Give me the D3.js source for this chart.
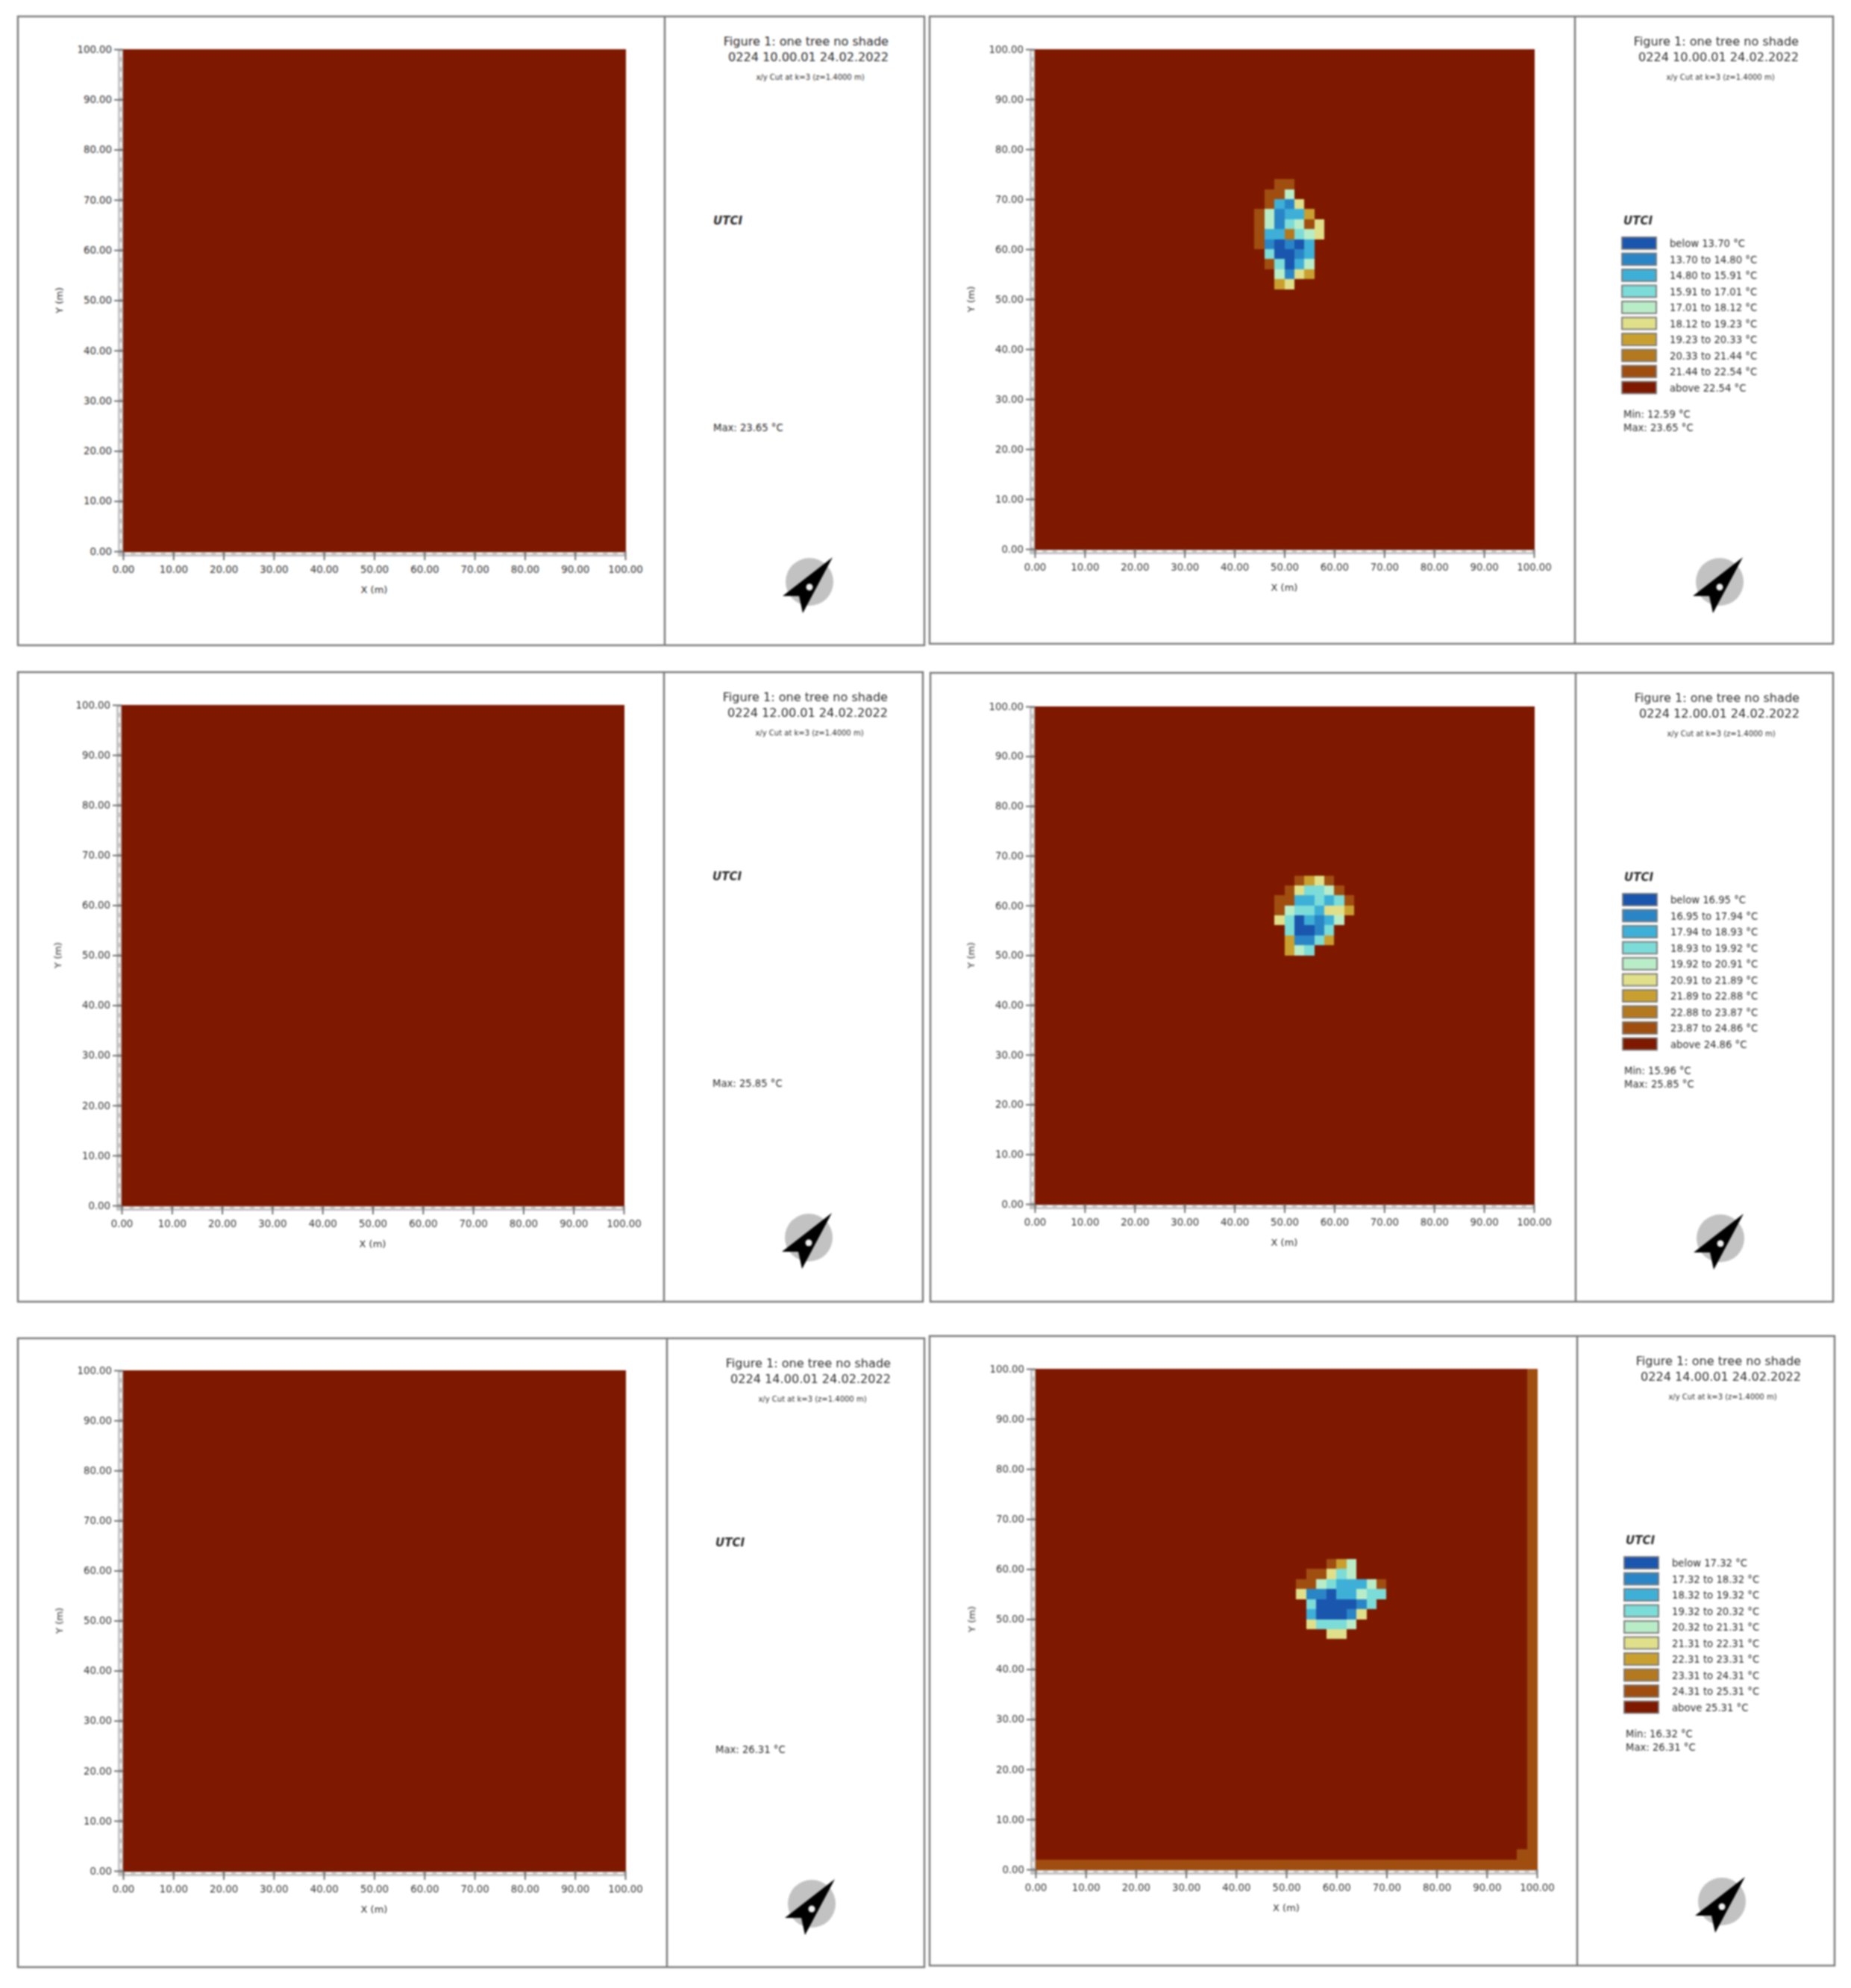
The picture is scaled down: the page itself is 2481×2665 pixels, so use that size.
<!DOCTYPE html>
<html>
<head>
<meta charset="utf-8">
<script src="https://cdnjs.cloudflare.com/ajax/libs/d3/7.8.5/d3.min.js"></script>
<style>
html,body{margin:0;padding:0;background:#fff;}
svg{display:block;filter:blur(1px);}
text{font-family:"DejaVu Sans",sans-serif;fill:#2a2a2a;}
</style>
</head>
<body>
<svg id="chart" width="2481" height="2665"></svg>
<script>
// ---- data ----
const titleText = "Figure 1: one tree no shade";
const cutText = "x/y Cut at k=3 (z=1.4000 m)";
const variableName = "UTCI";
const timeLabels = ["0224 10.00.01 24.02.2022", "0224 12.00.01 24.02.2022", "0224 14.00.01 24.02.2022"];
const axisTicks = [0, 10, 20, 30, 40, 50, 60, 70, 80, 90, 100];
const classColors = ["#1a55ae", "#2a85c6", "#3eb0d8", "#7cdcd8", "#b9edc8", "#e0e08a", "#c9a030", "#b4781f", "#a04d10", "#7e1900"];
const maxValues = [23.65, 25.85, 26.31];
const minValues = [12.59, 15.96, 16.32];
const breaks10 = [13.70, 14.80, 15.91, 17.01, 18.12, 19.23, 20.33, 21.44, 22.54];
const breaks12 = [16.95, 17.94, 18.93, 19.92, 20.91, 21.89, 22.88, 23.87, 24.86];
const breaks14 = [17.32, 18.32, 19.32, 20.32, 21.31, 22.31, 23.31, 24.31, 25.31];
// rows of classes: [row from top, first column, classes]
const cells10 = [
  [13,24,"88"],[14,23,"884"],[15,23,"8215"],[16,22,"841226"],[17,22,"8413485"],[18,22,"8227345"],
  [19,22,"810102"],[20,23,"30012"],[21,23,"83024"],[22,24,"4156"],[23,24,"65"]];
const cells12 = [
  [17,26,"8658"],[18,25,"853348"],[19,24,"88223238"],[20,24,"84332556"],[21,24,"5302124"],
  [22,25,"30013"],[23,25,"61136"],[24,25,"643"]];
const cells14 = [
  [19,29,"864"],[20,27,"88534"],[21,26,"884322248"],[22,26,"511022433"],[23,27,"3000013"],
  [24,27,"200015"],[25,27,"53334"],[26,29,"55"]];
const edge14Class = 8;   // the brown right column and bottom row of the 14:00 grid

// ---- layout ----
const panels = [
  {f:[24,22,1239,865],  d:891,  p:[165,66,838,739],   t:0},
  {f:[1246,22,2457,863],d:2111, p:[1387,66,2056,736], t:0, cells:cells10, breaks:breaks10},
  {f:[24,901,1237,1745],d:890,  p:[163,945,836,1616], t:1},
  {f:[1247,902,2457,1745],d:2112,p:[1387,947,2056,1614],t:1, cells:cells12, breaks:breaks12},
  {f:[24,1794,1239,2637],d:894, p:[165,1837,838,2508],t:2},
  {f:[1246,1791,2459,2635],d:2114,p:[1388,1835,2060,2506],t:2, cells:cells14, breaks:breaks14, edge:edge14Class}
];
const N = 50;
const svg = d3.select("#chart");
const fmt = d3.format(".2f");

function buildGrid(pn){
  const g = d3.range(N).map(() => d3.range(N).map(() => 9));
  (pn.cells||[]).forEach(([r,c,s]) => { [...s].forEach((ch,k) => { g[r][c+k] = +ch; }); });
  if(pn.edge !== undefined){
    for(let i=0;i<N;i++){ g[N-1][i]=pn.edge; g[i][N-1]=pn.edge; }
    g[N-2][N-2]=pn.edge;
  }
  const out=[];
  g.forEach((row,r)=>row.forEach((v,c)=>out.push({r,c,v})));
  return out;
}

panels.forEach(pn => {
  const g = svg.append("g");
  const [fx0,fy0,fx1,fy1] = pn.f;
  const [px0,py0,px1,py1] = pn.p;
  g.append("rect").attr("x",fx0).attr("y",fy0).attr("width",fx1-fx0).attr("height",fy1-fy0)
    .attr("fill","#fff").attr("stroke","#7c7c7c").attr("stroke-width",2.5);
  g.append("line").attr("x1",pn.d).attr("x2",pn.d).attr("y1",fy0).attr("y2",fy1)
    .attr("stroke","#7c7c7c").attr("stroke-width",2.5);

  const x = d3.scaleLinear().domain([0,100]).range([px0,px1]);
  const y = d3.scaleLinear().domain([0,100]).range([py1,py0]);
  const color = d3.scaleOrdinal().domain(d3.range(10)).range(classColors);
  const dm = 100/N;

  // scale strips
  g.append("rect").attr("x",px0-7).attr("y",py0).attr("width",7).attr("height",py1-py0+7).attr("fill","#c4c4c4");
  g.append("rect").attr("x",px0-7).attr("y",py1).attr("width",px1-px0+7).attr("height",7).attr("fill","#c4c4c4");
  const minor = d3.range(0,100,dm);
  g.append("g").selectAll("line").data(minor).join("line")
    .attr("x1",d=>x(d)+3).attr("x2",d=>x(d+dm)-3).attr("y1",py1+3).attr("y2",py1+3)
    .attr("stroke","#fff").attr("stroke-width",2);
  g.append("g").selectAll("line").data(minor).join("line")
    .attr("y1",d=>y(d)-3).attr("y2",d=>y(d+dm)+3).attr("x1",px0-3).attr("x2",px0-3)
    .attr("stroke","#fff").attr("stroke-width",2);

  // cells
  g.append("g").attr("shape-rendering","crispEdges").selectAll("rect").data(buildGrid(pn)).join("rect")
    .attr("x",d=>x(d.c*dm)).attr("y",d=>y(100-d.r*dm))
    .attr("width",d=>x((d.c+1)*dm)-x(d.c*dm)+0.5)
    .attr("height",d=>y(100-(d.r+1)*dm)-y(100-d.r*dm)+0.5)
    .attr("fill",d=>color(d.v));

  // axes
  const ax = d3.axisBottom(x).tickValues(axisTicks).tickFormat(fmt).tickSize(12).tickPadding(8);
  const ay = d3.axisLeft(y).tickValues(axisTicks).tickFormat(fmt).tickSize(12).tickPadding(3);
  const gx = g.append("g").attr("transform",`translate(0,${py1})`).call(ax);
  const gy = g.append("g").attr("transform",`translate(${px0},0)`).call(ay);
  [gx,gy].forEach(a=>{
    a.select(".domain").remove();
    a.selectAll("line").attr("stroke","#666").attr("stroke-width",1.8);
    a.selectAll("text").attr("font-size",13.3).attr("font-family","DejaVu Sans").style("fill","#333");
  });
  g.append("text").attr("x",(px0+px1)/2).attr("y",py1+56).attr("text-anchor","middle").attr("font-size",13).text("X (m)");
  g.append("text").attr("transform",`translate(${px0-81},${(py0+py1)/2}) rotate(-90)`).attr("text-anchor","middle").attr("font-size",13).text("Y (m)");

  // titles
  g.append("text").attr("x",pn.d+300).attr("y",fy0+39).attr("text-anchor","end").attr("font-size",16.1).text(titleText);
  g.append("text").attr("x",pn.d+300).attr("y",fy0+60).attr("text-anchor","end").attr("font-size",16.1).text(timeLabels[pn.t]);
  g.append("text").attr("x",pn.d+195).attr("y",fy0+85).attr("text-anchor","middle").attr("font-size",10).text(cutText);

  // legend
  const lx = pn.d+63;
  g.append("text").attr("x",lx+2).attr("y",fy0+279).attr("font-size",15).attr("font-weight","bold").attr("font-style","italic").text(variableName);
  if(pn.breaks){
    const b = pn.breaks;
    const labels = ["below "+fmt(b[0])+" °C"]
      .concat(d3.range(8).map(i=>fmt(b[i])+" to "+fmt(b[i+1])+" °C"))
      .concat(["above "+fmt(b[8])+" °C"]);
    const row = d3.scaleLinear().domain([0,9]).range([fy0+296,fy0+296+193.5]);
    const lg = g.append("g");
    lg.selectAll("rect").data(d3.range(10)).join("rect")
      .attr("x",lx).attr("y",d=>row(d)).attr("width",46).attr("height",16)
      .attr("fill",d=>color(d)).attr("stroke","#777").attr("stroke-width",1.8);
    lg.selectAll("text").data(labels).join("text")
      .attr("x",lx+64).attr("y",(d,i)=>row(i)+13).attr("font-size",13.2).text(d=>d);
    g.append("text").attr("x",lx+2).attr("y",fy0+538).attr("font-size",13.2).text("Min: "+fmt(minValues[pn.t])+" °C");
  }
  g.append("text").attr("x",lx+2).attr("y",fy0+556).attr("font-size",13.2)
    .text("Max: "+fmt(maxValues[pn.t])+" °C");

  // compass
  const cx = pn.d+194, cy = fy0+758;
  const cg = g.append("g").attr("transform",`translate(${cx},${cy})`);
  cg.append("circle").attr("r",32).attr("fill","#c2c2c2");
  cg.append("path").attr("d","M31,-33 L-36,19 L-14,19 L-9,42 Z").attr("fill","#000");
  cg.append("circle").attr("cx",0).attr("cy",7).attr("r",4.5).attr("fill","#eee");
});
</script>
</body>
</html>
